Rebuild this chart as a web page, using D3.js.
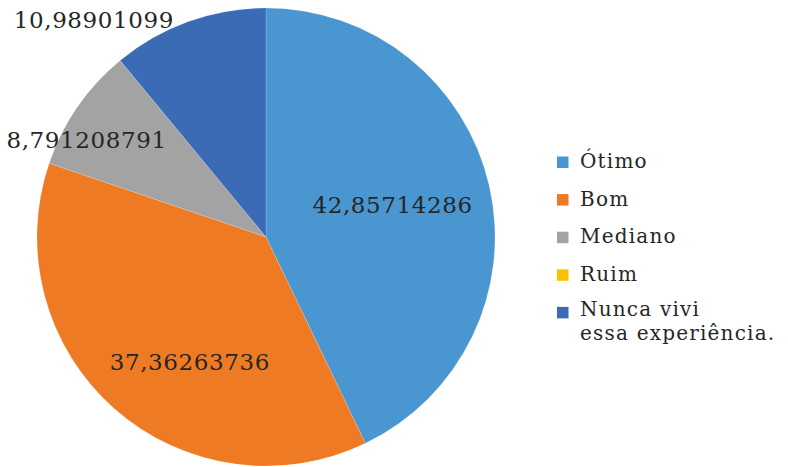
<!DOCTYPE html>
<html>
<head>
<meta charset="utf-8">
<script src="https://cdn.jsdelivr.net/npm/d3@7"></script>
<style>
  body { margin: 0; background: #fff; }
  text { font-family: "DejaVu Serif", serif; fill: #262626; }
</style>
</head>
<body>
<script>
// chart data
var categories = ["Ótimo", "Bom", "Mediano", "Ruim", "Nunca vivi essa experiência."];
var values = [42.85714286, 37.36263736, 8.791208791, 0, 10.98901099];
var valueLabels = ["42,85714286", "37,36263736", "8,791208791", "", "10,98901099"];
var colors = ["#4A96D1", "#EE7B24", "#A3A3A3", "#FFC000", "#3B6BB5"];

var width = 788, height = 467;
var cx = 266, cy = 237, radius = 229;

var svg = d3.select("body").append("svg")
    .attr("width", width)
    .attr("height", height);

var rows = categories.map(function(c, i) {
  return {name: c, value: values[i], label: valueLabels[i], color: colors[i]};
});

var pie = d3.pie()
    .sort(null)
    .value(function(d) { return d.value; });

var arc = d3.arc()
    .innerRadius(0)
    .outerRadius(radius);

var arcs = pie(rows);

var g = svg.append("g")
    .attr("transform", "translate(" + cx + "," + cy + ")");

g.selectAll(".slice")
    .data(arcs)
  .enter().append("path")
    .attr("class", "slice")
    .attr("d", arc)
    .attr("fill", function(d) { return d.data.color; })
    .attr("stroke", "rgba(255,255,255,0.25)")
    .attr("stroke-width", 0.6);

// label placement: polar position (angle, radius factor) like Excel's best fit
var labelAngle = [75.9, 211.3, 298.3, 0, 321.6];
var labelRadius = [0.57, 0.64, 0.89, 0, 1.21];

g.selectAll(".vlabel")
    .data(arcs.filter(function(d) { return d.data.value > 0; }))
  .enter().append("text")
    .attr("class", "vlabel")
    .attr("text-anchor", "middle")
    .attr("font-size", "23px")
    .attr("letter-spacing", "0.6px")
    .attr("transform", function(d) {
      var i = d.index;
      var a = labelAngle[i] * Math.PI / 180;
      var r = radius * labelRadius[i];
      var x = Math.sin(a) * r;
      var y = -Math.cos(a) * r + 8;
      return "translate(" + x + "," + y + ")";
    })
    .text(function(d) { return d.data.label; });

// legend
var legend = svg.append("g")
    .attr("transform", "translate(557,162)");

var item = legend.selectAll(".item")
    .data(rows)
  .enter().append("g")
    .attr("class", "item")
    .attr("transform", function(d, i) { return "translate(0," + (i * 37.6) + ")"; });

item.append("rect")
    .attr("x", 0)
    .attr("y", -5.5)
    .attr("width", 11.5)
    .attr("height", 11.5)
    .attr("fill", function(d) { return d.color; });

item.each(function(d) {
  var it = d3.select(this);
  var lines = d.name.indexOf("Nunca") == 0 ? ["Nunca vivi", "essa experiência."] : [d.name];
  var top = lines.length > 1 ? 4 : 6;
  lines.forEach(function(line, j) {
    it.append("text")
      .attr("x", 23)
      .attr("y", top + j * 23.6)
      .attr("font-size", "20px")
      .attr("letter-spacing", "1.2px")
      .text(line);
  });
});
</script>
</body>
</html>
